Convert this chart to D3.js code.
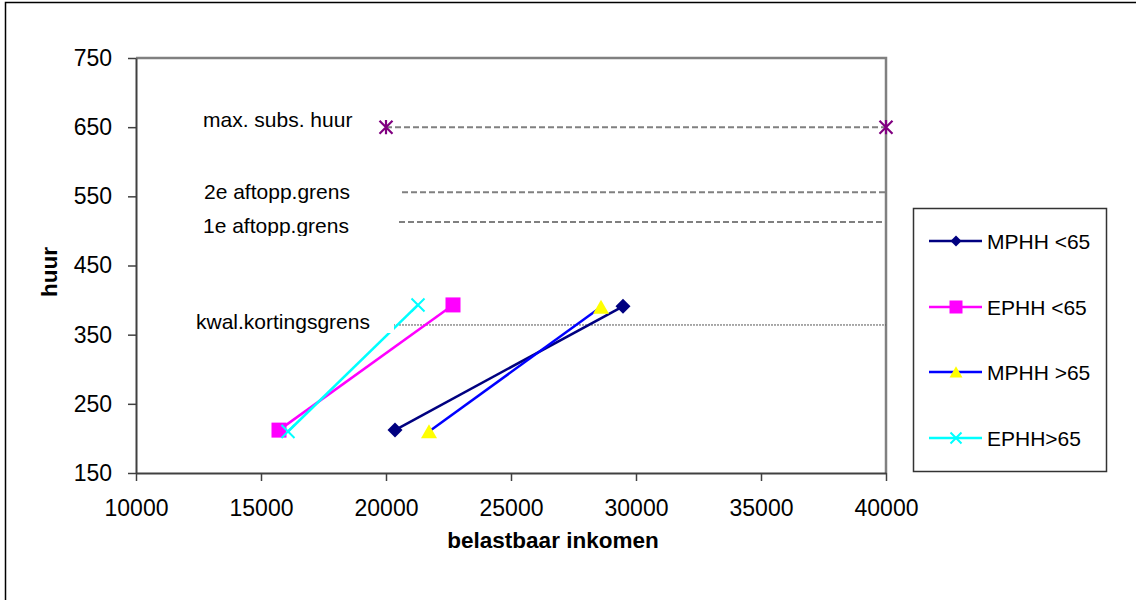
<head>
  <script src="https://cdnjs.cloudflare.com/ajax/libs/d3/7.8.5/d3.min.js"></script>
  <title>huur</title>
  <style>
    body { margin: 0; background: #fff; }
    text { font-family: "Liberation Sans", Arial, sans-serif; fill: #000; }
  </style>
</head>

<body>
  <script>
    // series: inkomen (x) and huur (y), two points each
    const seriesNames = ["MPHH <65", "EPHH <65", "MPHH >65", "EPHH>65"];
    const mphhOnder65 = [[20360, 212], [29480, 391]];
    const ephhOnder65 = [[15720, 212], [22680, 393]];
    const mphhBoven65 = [[21720, 210], [28600, 390]];
    const ephhBoven65 = [[16080, 210], [21280, 393]];

    // reference lines (label, huur, from inkomen, to inkomen)
    const refLabels = ["max. subs. huur", "2e aftopp.grens", "1e aftopp.grens", "kwal.kortingsgrens"];
    const refHuur = [650, 556, 513, 364];
    const refFrom = [20000, 20640, 20520, 20280];
    const refTo = [40000, 40000, 40000, 40000];

    const xTicks = [10000, 15000, 20000, 25000, 30000, 35000, 40000];
    const yTicks = [150, 250, 350, 450, 550, 650, 750];

    const w = 1136;
    const h = 600;
    const pLeft = 136, pRight = 886, pTop = 58, pBottom = 473;

    const xScale = d3.scaleLinear().domain([10000, 40000]).range([pLeft, pRight]);
    const yScale = d3.scaleLinear().domain([150, 750]).range([pBottom, pTop]);

    const svg = d3.select("body")
      .append("svg")
      .attr("width", w)
      .attr("height", h);

    svg.append("rect").attr("width", w).attr("height", h).attr("fill", "#fff");

    // outer chart border (only left and top are in frame)
    svg.append("rect")
      .attr("x", 5.5).attr("y", 2.5)
      .attr("width", 1300).attr("height", 800)
      .attr("fill", "none")
      .attr("stroke", "#000")
      .attr("stroke-width", 1.5);

    // plot area border
    svg.append("path")
      .attr("d", "M" + pLeft + "," + pTop + "H" + pRight + "V" + pBottom)
      .attr("fill", "none")
      .attr("stroke", "#808080")
      .attr("stroke-width", 2.5);

    const xAxis = d3.axisBottom(xScale).tickValues(xTicks).tickSize(8).tickSizeOuter(0).tickPadding(19).tickFormat(d3.format("d"));
    const yAxis = d3.axisLeft(yScale).tickValues(yTicks).tickSize(8).tickSizeOuter(0).tickPadding(16);

    const gx = svg.append("g")
      .attr("transform", "translate(0," + pBottom + ")")
      .call(xAxis);
    const gy = svg.append("g")
      .attr("transform", "translate(" + pLeft + ",0)")
      .call(yAxis);

    [gx, gy].forEach(g => {
      g.select(".domain").attr("stroke", "#404040").attr("stroke-width", 2);
      g.selectAll(".tick line").attr("stroke", "#404040").attr("stroke-width", 1.5);
      g.selectAll(".tick text")
        .attr("font-size", 23)
        .attr("font-family", "Liberation Sans, Arial, sans-serif")
        .attr("fill", "#000");
    });

    // axis titles
    svg.append("text")
      .attr("x", 553).attr("y", 548)
      .attr("text-anchor", "middle")
      .attr("font-size", 22.5)
      .attr("font-weight", "bold")
      .text("belastbaar inkomen");

    svg.append("text")
      .attr("transform", "translate(57,272) rotate(-90)")
      .attr("text-anchor", "middle")
      .attr("font-size", 22.5)
      .attr("font-weight", "bold")
      .text("huur");

    // reference lines
    refHuur.forEach((v, i) => {
      const kwal = i === 3;
      svg.append("line")
        .attr("x1", xScale(refFrom[i])).attr("x2", xScale(refTo[i]))
        .attr("y1", yScale(v)).attr("y2", yScale(v))
        .attr("stroke", kwal ? "#555" : "#808080")
        .attr("stroke-width", kwal ? 1 : 2)
        .attr("stroke-dasharray", kwal ? "2,1" : "6,3");
    });

    // asterisk markers on max. subs. huur
    const star = (g, size) => {
      const s = size / 2;
      g.append("path")
        .attr("d", "M" + (-s) + "," + (-s) + "L" + s + "," + s + "M" + (-s) + "," + s + "L" + s + "," + (-s) + "M0," + (-s * 1.1) + "V" + (s * 1.1))
        .attr("stroke", "#800080")
        .attr("stroke-width", 2.2)
        .attr("fill", "none");
    };
    [refFrom[0], refTo[0]].forEach(x => {
      star(svg.append("g").attr("transform", "translate(" + xScale(x) + "," + yScale(refHuur[0]) + ")"), 13);
    });

    // series
    const seriesData = [mphhOnder65, ephhOnder65, mphhBoven65, ephhBoven65];
    const lineColors = ["#000080", "#FF00FF", "#0000FF", "#00FFFF"];
    const markerFill = ["#000080", "#FF00FF", "#FFFF00", "#00FFFF"];
    const markerType = ["diamond", "square", "triangle", "x"];
    const markerSize = [15, 15, 16, 13];

    function marker(g, type, color, size) {
      const s = size / 2;
      if (type === "diamond") {
        g.append("path").attr("d", "M0," + (-s) + "L" + s + ",0L0," + s + "L" + (-s) + ",0Z").attr("fill", color);
      } else if (type === "square") {
        g.append("rect").attr("x", -s).attr("y", -s).attr("width", size).attr("height", size).attr("fill", color);
      } else if (type === "triangle") {
        g.append("path").attr("d", "M0," + (-s * 0.9) + "L" + s + "," + (s * 0.85) + "L" + (-s) + "," + (s * 0.85) + "Z").attr("fill", color);
      } else {
        g.append("path").attr("d", "M" + (-s) + "," + (-s) + "L" + s + "," + s + "M" + (-s) + "," + s + "L" + s + "," + (-s))
          .attr("stroke", color).attr("stroke-width", 2).attr("fill", "none");
      }
    }

    const line = d3.line().x(d => xScale(d[0])).y(d => yScale(d[1]));

    seriesData.forEach((data, i) => {
      svg.append("path")
        .attr("d", line(data))
        .attr("fill", "none")
        .attr("stroke", lineColors[i])
        .attr("stroke-width", 2.5);
      data.forEach(d => {
        const g = svg.append("g").attr("transform", "translate(" + xScale(d[0]) + "," + yScale(d[1]) + ")");
        marker(g, markerType[i], markerFill[i], markerSize[i]);
      });
    });

    // reference labels (text boxes)
    const labelX = [203, 204, 203, 196];
    const labelY = [127, 199, 233, 329];
    svg.append("clipPath").attr("id", "clip1e")
      .append("rect").attr("x", 0).attr("y", 0).attr("width", w).attr("height", 236);
    svg.append("rect")
      .attr("x", 190).attr("y", 311).attr("width", 204).attr("height", 22)
      .attr("fill", "#fff");
    refLabels.forEach((t, i) => {
      const txt = svg.append("text")
        .attr("x", labelX[i]).attr("y", labelY[i])
        .attr("font-size", 21)
        .text(t);
      if (i === 2) txt.attr("clip-path", "url(#clip1e)");
    });

    // legend
    const legend = svg.append("g");
    legend.append("rect")
      .attr("x", 913.5).attr("y", 208.5)
      .attr("width", 193).attr("height", 263)
      .attr("fill", "#fff")
      .attr("stroke", "#333")
      .attr("stroke-width", 1.5);
    const legendY = [241, 307, 372, 438];
    const legendSize = [11, 13, 13, 11];
    seriesNames.forEach((name, i) => {
      legend.append("line")
        .attr("x1", 929).attr("x2", 982)
        .attr("y1", legendY[i]).attr("y2", legendY[i])
        .attr("stroke", lineColors[i])
        .attr("stroke-width", 2.5);
      marker(legend.append("g").attr("transform", "translate(956," + legendY[i] + ")"), markerType[i], markerFill[i], legendSize[i]);
      legend.append("text")
        .attr("x", 987).attr("y", legendY[i] + 8)
        .attr("font-size", 21)
        .text(name);
    });
  </script>
</body>
